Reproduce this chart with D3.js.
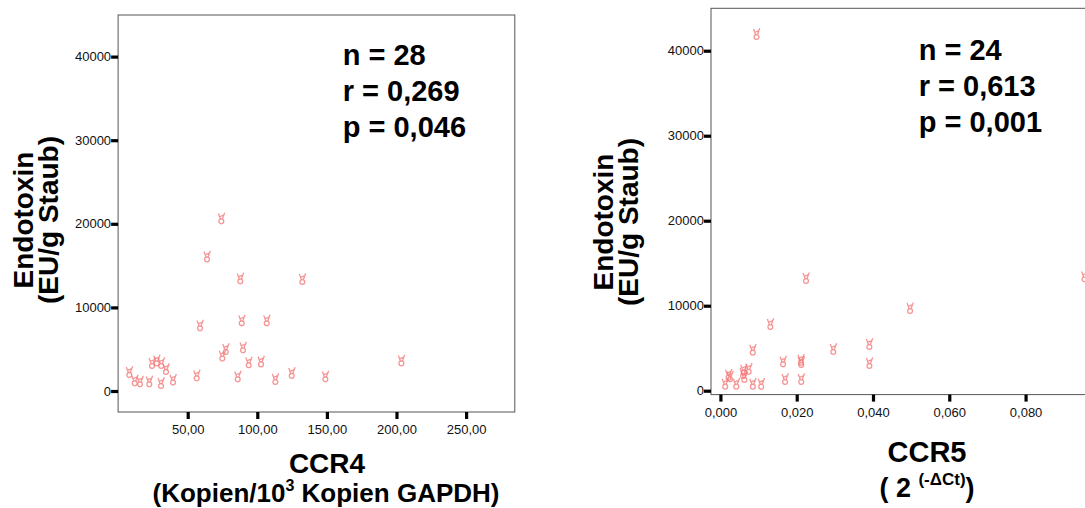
<!DOCTYPE html>
<html>
<head>
<meta charset="utf-8">
<script src="https://cdn.jsdelivr.net/npm/d3@7"></script>
<style>
  html, body { margin: 0; padding: 0; background: #fff; }
  svg { display: block; font-family: "Liberation Sans", Arial, sans-serif; }
</style>
</head>
<body>
<svg id="chart" width="1085" height="508"></svg>
<script>
// CCR4 expression vs. endotoxin load (n = 28)
const ccr4X = [8.05, 11.93, 15.74, 22.42, 24.36, 27.74, 31.04, 30.83, 34.42, 39.45,
  56.48, 58.85, 63.88, 74.16, 74.88, 77.32, 85.94, 87.81, 88.82, 89.75,
  93.85, 102.69, 106.78, 112.96, 124.75, 132.37, 148.9, 203.5];
const ccr4Endo = [2240, 1230, 1110, 1110, 3310, 3620, 3310, 920, 2600, 1320,
  1830, 7810, 16060, 20610, 4190, 4990, 1710, 13430, 8410, 5180,
  3390, 3500, 8410, 1400, 2120, 13360, 1710, 3620];

// CCR5 expression vs. endotoxin load (n = 24)
const ccr5X = [0.00125, 0.00212, 0.00249, 0.00416, 0.00593, 0.00609, 0.00628, 0.00742,
  0.00848, 0.00848, 0.0107, 0.01309, 0.01642, 0.01695, 0.02111, 0.02119,
  0.02119, 0.02244, 0.02959, 0.03905, 0.03905, 0.04972, 0.00946, 0.09547];
const ccr5Endo = [790, 1850, 1650, 790, 2050, 2440, 1580, 2550,
  4790, 790, 790, 7810, 3410, 1340, 3610, 3340,
  1340, 13220, 4870, 5460, 3220, 9690, 41930, 13410];

const yTicks = [0, 10000, 20000, 30000, 40000];
const ccr4Ticks = [50, 100, 150, 200, 250];
const ccr5Ticks = [0, 0.02, 0.04, 0.06, 0.08];

const statsCCR4 = ["n = 28", "r = 0,269", "p = 0,046"];
const statsCCR5 = ["n = 24", "r = 0,613", "p = 0,001"];

const svg = d3.select("#chart");
const comma = f => v => f(v).replace(".", ",");

function panel(opts) {
  const g = svg.append("g");
  const x = d3.scaleLinear().domain(opts.xDomain).range([opts.left, opts.right]);
  const y = d3.scaleLinear().domain(opts.yDomain).range([opts.bottom, opts.top]);

  // plot frame
  g.append("rect")
    .attr("x", opts.left).attr("y", opts.top)
    .attr("width", opts.right - opts.left).attr("height", opts.bottom - opts.top)
    .attr("fill", "none").attr("stroke", "#555").attr("stroke-width", 1);

  // y axis
  const ya = g.append("g").attr("transform", `translate(${opts.left},0)`)
    .call(d3.axisLeft(y).tickValues(yTicks).tickFormat(d3.format("d"))
      .tickSize(7).tickPadding(0));
  ya.select(".domain").remove();
  ya.selectAll(".tick line").attr("stroke", "#000").attr("stroke-width", 3.2);
  ya.selectAll(".tick text").attr("font-size", 13).attr("fill", "#111")
    .attr("font-family", "Liberation Sans, Arial, sans-serif");

  // x axis
  const xa = g.append("g").attr("transform", `translate(0,${opts.bottom})`)
    .call(d3.axisBottom(x).tickValues(opts.xTicks).tickFormat(opts.xFormat)
      .tickSize(7).tickPadding(6));
  xa.select(".domain").remove();
  xa.selectAll(".tick line").attr("stroke", "#000").attr("stroke-width", 3.2);
  xa.selectAll(".tick text").attr("font-size", 13).attr("fill", "#111")
    .attr("font-family", "Liberation Sans, Arial, sans-serif");

  // data markers
  const pts = g.append("g");
  opts.xs.forEach((xv, i) => {
    const m = pts.append("g")
      .attr("transform", `translate(${x(xv)},${y(opts.ys[i])}) scale(1.15)`)
      .attr("fill", "none").attr("stroke", "#f47a7a")
      .attr("stroke-width", 1.1).attr("opacity", 0.8);
    m.append("circle").attr("cx", 0).attr("cy", 2.3).attr("r", 2.1);
    m.append("path").attr("d", "M-2.6,-4.6L-0.7,0.6M2.9,-5.2L0.7,0.6M-1.8,-1.6L2.2,-3.2");
  });

  // statistics block
  opts.stats.forEach((s, i) => {
    g.append("text").attr("x", opts.statX).attr("y", opts.statY + i * 35.8)
      .attr("font-size", 29).attr("font-weight", "bold").attr("fill", "#000").text(s);
  });

  // y title (two lines)
  [["Endotoxin", opts.yt1], ["(EU/g Staub)", opts.yt2]].forEach(([t, bx]) => {
    g.append("text")
      .attr("transform", `translate(${bx},${opts.ytCenter}) rotate(-90)`)
      .attr("text-anchor", "middle").attr("font-size", 28).attr("font-weight", "bold")
      .attr("fill", "#000").text(t);
  });
  return g;
}

const left = panel({
  left: 118.1, right: 514.8, top: 15, bottom: 412,
  xDomain: [0, 285], yDomain: [-2512, 44976],
  xTicks: ccr4Ticks, xFormat: comma(d3.format(".2f")),
  xs: ccr4X, ys: ccr4Endo, stats: statsCCR4, statX: 342.7, statY: 65,
  yt1: 33, yt2: 57.5, ytCenter: 220
});

const right = panel({
  left: 711, right: 1140, top: 8.3, bottom: 394.6,
  xDomain: [-0.00247, 0.11], yDomain: [-458, 44990],
  xTicks: ccr5Ticks, xFormat: comma(d3.format(".3f")),
  xs: ccr5X, ys: ccr5Endo, stats: statsCCR5, statX: 918.7, statY: 60,
  yt1: 613, yt2: 637.5, ytCenter: 222
});

// x titles
const t4 = svg.append("g");
t4.append("text").attr("x", 327).attr("y", 473).attr("text-anchor", "middle")
  .attr("font-size", 28).attr("font-weight", "bold").text("CCR4");
const t4b = t4.append("text").attr("x", 326).attr("y", 502).attr("text-anchor", "middle")
  .attr("font-size", 26).attr("font-weight", "bold");
t4b.append("tspan").text("(Kopien/10");
t4b.append("tspan").attr("font-size", 16).attr("dy", -11).text("3");
t4b.append("tspan").attr("dy", 11).text(" Kopien GAPDH)");

const t5 = svg.append("g");
t5.append("text").attr("x", 927).attr("y", 462).attr("text-anchor", "middle")
  .attr("font-size", 29).attr("font-weight", "bold").text("CCR5");
const t5b = t5.append("text").attr("x", 927).attr("y", 497).attr("text-anchor", "middle")
  .attr("font-size", 27).attr("font-weight", "bold");
t5b.append("tspan").text("( 2 ");
t5b.append("tspan").attr("font-size", 17).attr("dy", -12).text("(-\u0394Ct)");
t5b.append("tspan").attr("dy", 12).text(")");
</script>
</body>
</html>
